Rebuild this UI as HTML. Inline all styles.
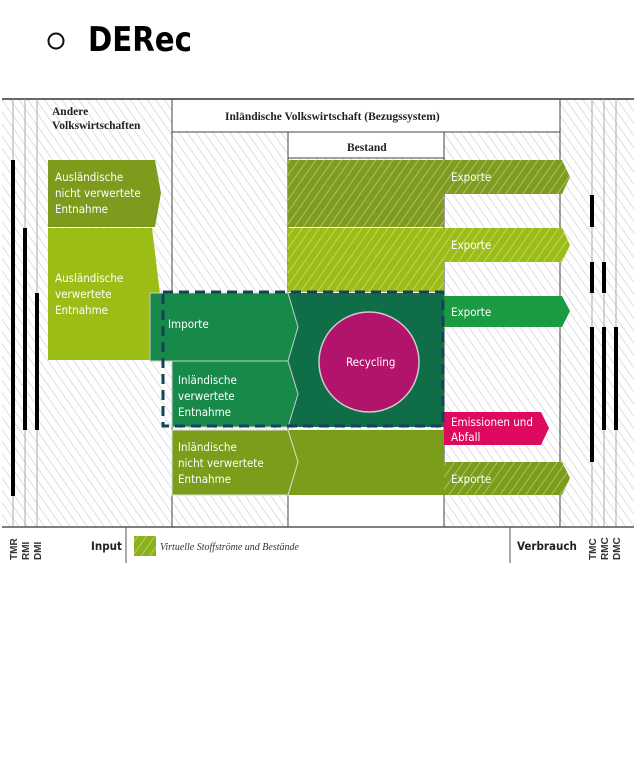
<!DOCTYPE html>
<html><head><meta charset="utf-8"><style>
body{margin:0;width:640px;height:766px;background:#fff;overflow:hidden;font-family:"Liberation Sans","DejaVu Sans",sans-serif}
</style></head><body>
<svg width="640" height="766" xmlns="http://www.w3.org/2000/svg" style="position:absolute;left:0;top:0">
<defs>
<pattern id="hw" width="7" height="7" patternUnits="userSpaceOnUse" patternTransform="rotate(-35)">
<rect width="7" height="7" fill="#fff"/><line x1="0" y1="0" x2="0" y2="7" stroke="#d4d4d4" stroke-width="1.5"/></pattern>
<pattern id="hg" width="7" height="7" patternUnits="userSpaceOnUse" patternTransform="rotate(35)">
<line x1="0" y1="0" x2="0" y2="7" stroke="rgba(255,255,255,0.35)" stroke-width="2"/></pattern>
</defs>
<circle cx="56" cy="41" r="7.5" fill="none" stroke="#111" stroke-width="2"/>
<text x="88" y="51" font-size="34" font-weight="bold" font-family="DejaVu Sans" fill="#000" textLength="104" lengthAdjust="spacingAndGlyphs">DERec</text>

<rect x="2" y="99" width="632" height="428" fill="url(#hw)"/>
<rect x="172" y="99" width="388" height="33" fill="#fff"/>
<rect x="288" y="132" width="156" height="26" fill="#fff"/>
<rect x="288" y="495" width="156" height="32" fill="#fff"/>
<line x1="2" y1="99" x2="634" y2="99" stroke="#333" stroke-width="1.5"/>
<g stroke="#444" stroke-width="1">
<line x1="172" y1="99" x2="172" y2="527"/><line x1="288" y1="132" x2="288" y2="527"/>
<line x1="444" y1="132" x2="444" y2="527"/><line x1="560" y1="99" x2="560" y2="527"/>
<line x1="172" y1="132" x2="560" y2="132"/><line x1="288" y1="158" x2="444" y2="158"/>
</g>
<g stroke="#aaa" stroke-width="1">
<line x1="13" y1="99" x2="13" y2="527"/><line x1="25" y1="99" x2="25" y2="527"/><line x1="37" y1="99" x2="37" y2="527"/>
<line x1="592" y1="99" x2="592" y2="527"/><line x1="604" y1="99" x2="604" y2="527"/><line x1="616" y1="99" x2="616" y2="527"/>
</g>
<line x1="2" y1="527" x2="634" y2="527" stroke="#555" stroke-width="1.5"/>

<g font-family="Liberation Serif" font-weight="bold" font-size="11.5" fill="#222">
<text x="52" y="115">Andere</text><text x="52" y="129">Volkswirtschaften</text>
<text x="225" y="120">Inländische Volkswirtschaft (Bezugssystem)</text>
<text x="347" y="151">Bestand</text>
</g>

<polygon points="48,160 155,160 161,193 155,227 48,227" fill="#7f9b1e"/>
<polygon points="48,228 152,228 160,294 152,360 48,360" fill="#9cbd16"/>
<rect x="288" y="160" width="156" height="67" fill="#809c1e"/><rect x="288" y="160" width="156" height="67" fill="url(#hg)"/>
<polygon points="444,160 562,160 570,177 562,194 444,194" fill="#809c1e"/><polygon points="444,160 562,160 570,177 562,194 444,194" fill="url(#hg)"/>
<rect x="288" y="228" width="156" height="64" fill="#9cbd16"/><rect x="288" y="228" width="156" height="64" fill="url(#hg)"/>
<polygon points="444,228 562,228 570,245 562,262 444,262" fill="#9cbd16"/><polygon points="444,228 562,228 570,245 562,262 444,262" fill="url(#hg)"/>
<rect x="288" y="293" width="156" height="134" fill="#0f6e48"/>
<polygon points="150,293 288,293 298,327 288,361 150,361" fill="#178a4a" stroke="#ccc" stroke-width="1"/>
<polygon points="172,361 288,361 298,394 288,427 172,427" fill="#178a4a" stroke="#ccc" stroke-width="1"/>
<polygon points="444,296 562,296 570,311 562,327 444,327" fill="#1b9c42"/>
<circle cx="369" cy="362" r="50" fill="#b3146b" stroke="#ccc" stroke-width="1.5"/>
<polygon points="444,412 541,412 549,428 541,445 444,445" fill="#dd0a5f"/>
<rect x="288" y="430" width="156" height="65" fill="#7a9e1a"/>
<polygon points="172,430 288,430 298,462 288,495 172,495" fill="#7a9e1a" stroke="#ddd" stroke-width="1"/>
<polygon points="444,462 562,462 570,478 562,495 444,495" fill="#7a9e1a"/><polygon points="444,462 562,462 570,478 562,495 444,495" fill="url(#hg)"/>
<rect x="163" y="292" width="280" height="134" fill="none" stroke="#17405a" stroke-width="3" stroke-dasharray="10,6"/>

<g fill="#fff" font-size="11.5" font-family="DejaVu Sans Condensed, Liberation Sans Narrow, Liberation Sans, sans-serif">
<text x="55" y="181">Ausländische</text><text x="55" y="197">nicht verwertete</text><text x="55" y="213">Entnahme</text>
<text x="55" y="282">Ausländische</text><text x="55" y="298">verwertete</text><text x="55" y="314">Entnahme</text>
<text x="168" y="328">Importe</text>
<text x="178" y="384">Inländische</text><text x="178" y="400">verwertete</text><text x="178" y="416">Entnahme</text>
<text x="178" y="451">Inländische</text><text x="178" y="467">nicht verwertete</text><text x="178" y="483">Entnahme</text>
<text x="451" y="181">Exporte</text><text x="451" y="249">Exporte</text><text x="451" y="316">Exporte</text>
<text x="451" y="426">Emissionen und</text><text x="451" y="441">Abfall</text>
<text x="451" y="483">Exporte</text>
<text x="346" y="366">Recycling</text>
</g>

<g fill="#000">
<rect x="11" y="160" width="4" height="336"/><rect x="23" y="228" width="4" height="202"/><rect x="35" y="293" width="4" height="137"/>
<rect x="590" y="195" width="4" height="32"/>
<rect x="590" y="262" width="4" height="31"/><rect x="602" y="262" width="4" height="31"/>
<rect x="590" y="327" width="4" height="135"/><rect x="602" y="327" width="4" height="103"/><rect x="614" y="327" width="4" height="103"/>
</g>

<line x1="126" y1="527" x2="126" y2="563" stroke="#555"/>
<line x1="510" y1="527" x2="510" y2="563" stroke="#555"/>
<rect x="134" y="536" width="22" height="20" fill="#8cb01a"/><rect x="134" y="536" width="22" height="20" fill="url(#hg)"/>
<text x="160" y="550" font-family="Liberation Serif" font-style="italic" font-size="10" fill="#333">Virtuelle Stoffströme und Bestände</text>
<g font-weight="bold" font-size="11.5" fill="#222" font-family="DejaVu Sans Condensed, Liberation Sans Narrow, sans-serif">
<text x="91" y="550">Input</text><text x="517" y="550">Verbrauch</text>
</g>
<g font-size="10" font-weight="bold" fill="#333" font-family="Liberation Sans Narrow, Liberation Sans, sans-serif">
<text transform="translate(17,560) rotate(-90)">TMR</text><text transform="translate(29,560) rotate(-90)">RMI</text><text transform="translate(41,560) rotate(-90)">DMI</text>
<text transform="translate(596,560) rotate(-90)">TMC</text><text transform="translate(608,560) rotate(-90)">RMC</text><text transform="translate(620,560) rotate(-90)">DMC</text>
</g>
</svg>
</body></html>
